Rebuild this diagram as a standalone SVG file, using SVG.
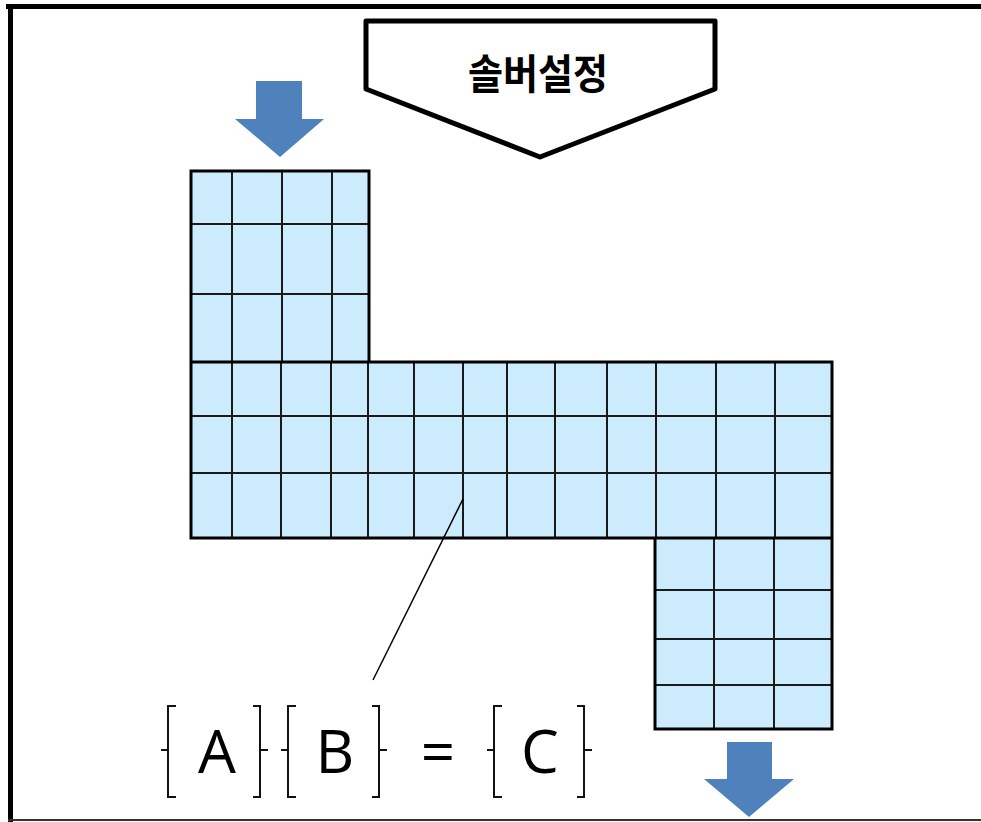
<svg xmlns="http://www.w3.org/2000/svg" width="981" height="822" viewBox="0 0 981 822">
<style>
.cell{fill:#CCEBFC;stroke:none}
.grid{stroke:#1a1a1a;stroke-width:2;fill:none}
.outline{stroke:#000;stroke-width:3;fill:none}
.arrow{fill:#4F81BD}
.brace{stroke:#111;stroke-width:2;fill:none}
.sym{font-family:"Open Sans","Liberation Sans",sans-serif;font-size:60px;fill:#000;text-anchor:middle}
</style>
<rect x="0" y="0" width="981" height="822" fill="#fff"/>
<g id="frame">
<line x1="6" y1="6.5" x2="981" y2="6.5" stroke="#000" stroke-width="5"/>
<line x1="10.5" y1="4" x2="10.5" y2="822" stroke="#000" stroke-width="5"/>
<line x1="8" y1="820" x2="981" y2="820" stroke="#333" stroke-width="2"/>
</g>
<g id="solver">
<path d="M366,21 L715,21 L715,89 L540,157 L366,89 Z" fill="#fff" stroke="#000" stroke-width="5" stroke-linejoin="round"/>
<text x="538" y="89" font-family="'Noto Sans CJK KR',sans-serif" font-weight="bold" font-size="41" text-anchor="middle" textLength="140" lengthAdjust="spacingAndGlyphs">솔버설정</text>
</g>
<g id="arrow-in">
<path class="arrow" d="M256,81 L302,81 L302,119 L324,119 L280,157 L235,119 L256,119 Z"/>
</g>
<g id="arrow-out">
<path class="arrow" d="M727,742 L772,742 L772,779 L794,779 L749,817 L704,779 L727,779 Z"/>
</g>
<g id="mesh">
<path class="cell" d="M191,171 L369,171 L369,362 L832,362 L832,729 L655,729 L655,538 L191,538 Z"/>
<g class="grid">
<line x1="232" y1="171" x2="232" y2="362"/>
<line x1="282" y1="171" x2="282" y2="362"/>
<line x1="332" y1="171" x2="332" y2="362"/>
<line x1="191" y1="224" x2="369" y2="224"/>
<line x1="191" y1="294" x2="369" y2="294"/>
<line x1="232" y1="362" x2="232" y2="538"/>
<line x1="281" y1="362" x2="281" y2="538"/>
<line x1="331" y1="362" x2="331" y2="538"/>
<line x1="368" y1="362" x2="368" y2="538"/>
<line x1="414" y1="362" x2="414" y2="538"/>
<line x1="463" y1="362" x2="463" y2="538"/>
<line x1="507" y1="362" x2="507" y2="538"/>
<line x1="555" y1="362" x2="555" y2="538"/>
<line x1="607" y1="362" x2="607" y2="538"/>
<line x1="656" y1="362" x2="656" y2="538"/>
<line x1="716" y1="362" x2="716" y2="538"/>
<line x1="775" y1="362" x2="775" y2="538"/>
<line x1="191" y1="416" x2="832" y2="416"/>
<line x1="191" y1="473" x2="832" y2="473"/>
<line x1="714" y1="538" x2="714" y2="729"/>
<line x1="774" y1="538" x2="774" y2="729"/>
<line x1="655" y1="590" x2="832" y2="590"/>
<line x1="655" y1="639" x2="832" y2="639"/>
<line x1="655" y1="685" x2="832" y2="685"/>
</g>
<path class="outline" d="M191,171 L369,171 L369,362 L832,362 L832,729 L655,729 L655,538 L191,538 Z"/>
<line x1="191" y1="362" x2="369" y2="362" stroke="#000" stroke-width="3"/>
<line x1="655" y1="538" x2="832" y2="538" stroke="#000" stroke-width="3"/>
</g>
<g id="connectors">
<line x1="463" y1="499" x2="373" y2="680" stroke="#000" stroke-width="1.5"/>
</g>
<g id="formula">
<path class="brace" d="M176,706 L168,706 L168,797 L176,797 M168,750 L161,750"/>
<path class="brace" d="M253,706 L260,706 L260,797 L253,797 M260,750 L268,750"/>
<path class="brace" d="M296,706 L288,706 L288,797 L296,797 M288,750 L281,750"/>
<path class="brace" d="M372,706 L379,706 L379,797 L372,797 M379,750 L387,750"/>
<path class="brace" d="M502,706 L494,706 L494,797 L502,797 M494,750 L487,750"/>
<path class="brace" d="M577,706 L584,706 L584,797 L577,797 M584,750 L592,750"/>
<text class="sym" x="217" y="773">A</text>
<text class="sym" x="335" y="773">B</text>
<text class="sym" x="438" y="773">=</text>
<text class="sym" x="540" y="773">C</text>
</g>
</svg>
